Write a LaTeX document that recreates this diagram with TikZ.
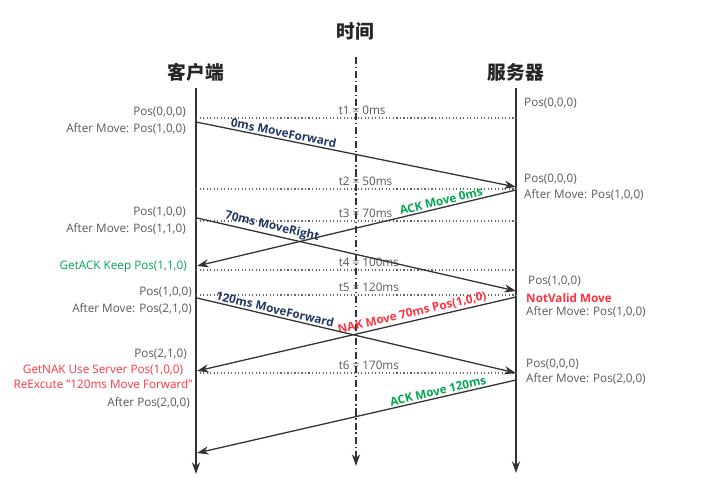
\documentclass[tikz,border=0pt]{standalone}
\usepackage{fontspec}
\setmainfont{Open Sans}
\newfontfamily\cjk{Noto Sans CJK SC}
\usetikzlibrary{arrows.meta}

\definecolor{txtgray}{HTML}{595959}
\definecolor{linegray}{HTML}{333333}
\definecolor{msgblue}{HTML}{203864}
\definecolor{ackgreen}{HTML}{00A650}
\definecolor{nakred}{HTML}{FF3340}

\tikzset{
  lifeline/.style={line width=1.3pt, draw=linegray, -{Stealth[length=10pt,width=7pt]}},
  timeaxis/.style={line width=1.3pt, draw=linegray, dash pattern=on 6pt off 2.5pt on 1pt off 2.5pt, -{Stealth[length=10pt,width=7pt]}},
  msg/.style={line width=1.1pt, draw=linegray, -{Stealth[length=10pt,width=7pt]}},
  tick/.style={line width=0.9pt, draw=black!60, dash pattern=on 1pt off 2pt},
  title/.style={font=\cjk\bfseries\fontsize{16}{18}\selectfont, text=black!85},
  info/.style={text=txtgray, font=\fontsize{10}{12}\selectfont, inner sep=0pt},
  msglabel/.style={font=\bfseries\fontsize{10}{12}\selectfont, sloped, above, inner sep=1.5pt},
}

\begin{document}
\begin{tikzpicture}[x=0.03cm, y=-0.03cm]
  \useasboundingbox (0,0) rectangle (720,504);

  % titoli e assi
  \node[title] (tempo) at (355,31) {时间};
  \node[title] (client) at (196,72) {客户端};
  \node[title] (server) at (516,72) {服务器};
  \coordinate (cTop) at (196,88);
  \coordinate (cBot) at (196,474);
  \coordinate (sTop) at (516,88);
  \coordinate (sBot) at (516,473);
  \coordinate (tTop) at (356,57);
  \coordinate (tBot) at (356,466);
  \draw[lifeline] (cTop) -- (cBot);
  \draw[lifeline] (sTop) -- (sBot);
  \draw[timeaxis] (tTop) -- (tBot);

  % istanti di tempo
  \foreach \i/\y/\ms in {1/118/0ms, 2/189/50ms, 3/221/70ms, 4/270/100ms, 5/295/120ms, 6/373/170ms} {
    \coordinate (tl\i) at (196,\y);
    \coordinate (tr\i) at (516,\y);
    \draw[tick] (tl\i) -- (tr\i);
    \node[info, anchor=base] (t\i) at (356,\y-4) {\llap{t\i\ }=\rlap{\ \ms}};
  }

  % messaggi
  \coordinate (c1) at (196,122);  \coordinate (s1) at (516,187);
  \coordinate (s2) at (516,190);  \coordinate (c2) at (197,266);
  \coordinate (c3) at (197,218);  \coordinate (s3) at (516,291);
  \coordinate (s4) at (516,297);  \coordinate (c4) at (197,371);
  \coordinate (c5) at (197,298);  \coordinate (s5) at (516,373);
  \coordinate (s6) at (516,380);  \coordinate (c6) at (197,453);
  \draw[msg] (c1) -- node[msglabel, text=msgblue, pos=0.27] (m1) {0ms MoveForward} (s1);
  \draw[msg] (s2) -- node[msglabel, text=ackgreen, pos=0.23] (m2) {ACK Move 0ms} (c2);
  \draw[msg] (c3) -- node[msglabel, text=msgblue, pos=0.23] (m3) {70ms MoveRight} (s3);
  \draw[msg] (s4) -- node[msglabel, text=nakred, pos=0.32] (m4) {NAK Move 70ms Pos(1,0,0)} (c4);
  \draw[msg] (c5) -- node[msglabel, text=msgblue, pos=0.24] (m5) {120ms MoveForward} (s5);
  \draw[msg] (s6) -- node[msglabel, text=ackgreen, pos=0.24] (m6) {ACK Move 120ms} (c6);

  % stato lato client
  \node[info, anchor=east] (cp1a) at (186,112) {Pos(0,0,0)};
  \node[info, anchor=east] (cp1b) at (186,129) {After Move: Pos(1,0,0)};
  \node[info, anchor=east] (cp2a) at (186,212) {Pos(1,0,0)};
  \node[info, anchor=east] (cp2b) at (186,229) {After Move: Pos(1,1,0)};
  \node[info, anchor=east, text=ackgreen] (cp3) at (187,267) {GetACK Keep Pos(1,1,0)};
  \node[info, anchor=east] (cp4a) at (192,292) {Pos(1,0,0)};
  \node[info, anchor=east] (cp4b) at (192,309) {After Move: Pos(2,1,0)};
  \node[info, anchor=east] (cp5a) at (187,354) {Pos(2,1,0)};
  \node[info, text=nakred] (cp5b) at (103,370) {GetNAK Use Server Pos(1,0,0)};
  \node[info, text=nakred] (cp5c) at (103,384) {ReExcute "120ms Move Forward"};
  \node[info, anchor=east] (cp5d) at (190,403) {After Pos(2,0,0)};

  % stato lato server
  \node[info, anchor=west] (sp1) at (524,103) {Pos(0,0,0)};
  \node[info, anchor=west] (sp2a) at (524,179) {Pos(0,0,0)};
  \node[info, anchor=west] (sp2b) at (524,195) {After Move: Pos(1,0,0)};
  \node[info, anchor=west] (sp3a) at (528,281) {Pos(1,0,0)};
  \node[info, anchor=west, text=nakred, font=\bfseries\fontsize{10}{12}\selectfont] (sp3b) at (526,298) {NotValid Move};
  \node[info, anchor=west] (sp3c) at (526,312) {After Move: Pos(1,0,0)};
  \node[info, anchor=west] (sp4a) at (526,364) {Pos(0,0,0)};
  \node[info, anchor=west] (sp4b) at (526,379) {After Move: Pos(2,0,0)};
\end{tikzpicture}
\end{document}
